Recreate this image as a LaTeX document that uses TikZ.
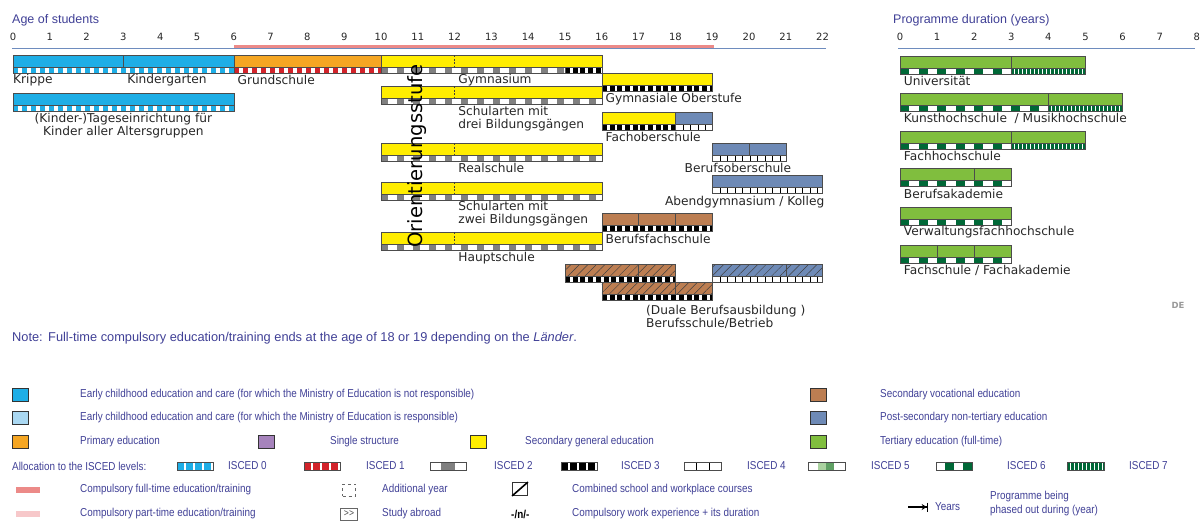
\documentclass[tikz,border=0pt]{standalone}
\usepackage{fontspec}
\setmainfont{DejaVu Sans}
\newfontfamily\notefont{Liberation Sans}
\newfontfamily\legfont[FakeStretch=0.86]{Liberation Sans}
\usetikzlibrary{patterns.meta,arrows.meta}
\definecolor{ecec}{RGB}{30,174,230}
\definecolor{ececlight}{RGB}{170,216,242}
\definecolor{primary}{RGB}{245,166,35}
\definecolor{single}{RGB}{166,131,188}
\definecolor{secgen}{RGB}{255,237,0}
\definecolor{secvoc}{RGB}{188,126,82}
\definecolor{postsec}{RGB}{110,138,182}
\definecolor{tertiary}{RGB}{128,190,62}
\definecolor{iscedred}{RGB}{210,35,42}
\definecolor{iscedgreen}{RGB}{0,104,55}
\definecolor{iscedlight}{RGB}{170,210,160}
\definecolor{iscedmid}{RGB}{95,160,100}
\definecolor{compfull}{RGB}{236,138,136}
\definecolor{comppart}{RGB}{247,200,202}
\definecolor{navy}{RGB}{64,64,150}
\definecolor{axisblue}{RGB}{110,140,190}

% one block of a programme: from, to, top, colour
\newcommand{\edubar}[4]{\draw[barframe, fill=#4] (#1,#3) rectangle (#2,#3+12);}
% hatched block (combined school and workplace)
\newcommand{\dualbar}[4]{%
  \fill[#4] (#1,#3) rectangle (#2,#3+12);
  \fill[pattern={Lines[angle=45,distance=6pt,line width=0.5pt]}, pattern color=black!75] (#1,#3) rectangle (#2,#3+12);
  \draw[barframe] (#1,#3) rectangle (#2,#3+12);}
% ISCED strip: from, to, top, height, style
\newcommand{\iscedstrip}[5]{%
  \fill[white] (#1,#3) rectangle (#2,#3+#4);
  \draw[#5, line width=#4pt] (#1,#3+#4/2) -- (#2,#3+#4/2);
  \draw[barframe] (#1,#3) rectangle (#2,#3+#4);}

\begin{document}
\begin{tikzpicture}[x=1pt, y=-1pt,
    barframe/.style={draw=black!70, line width=0.5pt},
    divider/.style={draw=black!75, dash pattern=on 2pt off 1.5pt, line width=0.6pt},
    lbl/.style={anchor=west, inner sep=0pt, align=left, font=\fontsize{12.2}{13}\selectfont, text=black!85},
    num/.style={inner sep=0pt, font=\fontsize{10}{11}\selectfont, text=black!85},
    head/.style={anchor=west, inner sep=0pt, font=\notefont\fontsize{12.5}{14}\selectfont, text=navy},
    leg/.style={anchor=west, inner sep=0pt, align=left, font=\legfont\fontsize{11.5}{14}\selectfont, text=navy},
    legsq/.style={draw=black!80, line width=0.6pt, minimum width=16pt, minimum height=13pt, inner sep=0pt},
    compbar/.style={minimum width=24pt, minimum height=6pt, inner sep=0pt},
    isced0/.style={ecec, dash pattern=on 5pt off 4pt},
    isced1/.style={iscedred, dash pattern=on 5pt off 4pt},
    isced2/.style={gray, dash pattern=on 7pt off 9pt},
    isced3/.style={black, dash pattern=on 5pt off 2.7pt},
    isced4/.style={black, dash pattern=on 1pt off 6.5pt},
    isced6/.style={iscedgreen, dash pattern=on 9pt off 9.5pt},
    isced7/.style={iscedgreen, dash pattern=on 2.5pt off 1.5pt},
    key0/.style={ecec, dash pattern=on 6.5pt off 2.5pt},
    key1/.style={iscedred, dash pattern=on 6.5pt off 2.5pt},
    key2/.style={gray, dash pattern=on 0pt off 11pt on 14pt off 20pt},
    key3/.style={black, dash pattern=on 6.5pt off 2.5pt},
    key4/.style={black, dash pattern=on 1pt off 11.3pt},
    key5/.style={iscedlight, dash pattern=on 0pt off 10pt on 8pt off 30pt,
      postaction={draw, iscedmid, line width=8pt, dash pattern=on 0pt off 18pt on 8pt off 30pt}},
    key6/.style={iscedgreen, dash pattern=on 9pt off 9pt, dash phase=9pt},
    key7/.style={iscedgreen, dash pattern=on 2.5pt off 1.5pt},
]
\useasboundingbox (0,0) rectangle (1204,530);

% headings
\node[head] (agehead) at (12,20) {Age of students};
\node[head] (durhead) at (893,20) {Programme duration (years)};

% ---- age axis and school programmes
\begin{scope}[x=36.8pt, xshift=13pt]
  \foreach \a in {0,...,22}
    \node[num] (age\a) at (\a,37) {\a};
  \draw[axisblue, line width=0.6pt] (-0.03,48) -- (22.1,48);
  \draw[compfull, line width=3.8pt] (6,46.5) -- (19.05,46.5);

  % pre-primary, primary, Gymnasium
  \edubar{0}{3}{55}{ecec}
  \edubar{3}{6}{55}{ecec}
  \edubar{6}{10}{55}{primary}
  \edubar{10}{16}{55}{secgen}
  \draw[divider] (12,55) -- (12,67);
  \iscedstrip{0}{6}{67}{6}{isced0}
  \iscedstrip{6}{10}{67}{6}{isced1}
  \iscedstrip{10}{15}{67}{6}{isced2}
  \iscedstrip{15}{16}{67}{6}{isced3}
  \node[lbl] (krippe) at (0,80) {Krippe};
  \node[lbl] (kiga) at (3.1,80) {Kindergarten};
  \node[lbl] (grund) at (6.1,80) {Grundschule};
  \node[lbl] (gym) at (12.1,80) {Gymnasium};

  \edubar{0}{6}{93}{ecec}
  \iscedstrip{0}{6}{105}{6}{isced0}
  \node[lbl, anchor=north, align=center] (tages) at (3,113) {(Kinder-)Tageseinrichtung für\\Kinder aller Altersgruppen};

  % lower secondary
  \edubar{10}{16}{86}{secgen}
  \draw[divider] (12,86) -- (12,98);
  \iscedstrip{10}{16}{98}{6}{isced2}
  \node[lbl] (drei) at (12.1,118.5) {Schularten mit\\drei Bildungsgängen};

  \edubar{10}{16}{143}{secgen}
  \draw[divider] (12,143) -- (12,155);
  \iscedstrip{10}{16}{155}{6}{isced2}
  \node[lbl] (real) at (12.1,168) {Realschule};

  \edubar{10}{16}{182}{secgen}
  \draw[divider] (12,182) -- (12,194);
  \iscedstrip{10}{16}{194}{6}{isced2}
  \node[lbl] (zwei) at (12.1,213.5) {Schularten mit\\zwei Bildungsgängen};

  \edubar{10}{16}{232}{secgen}
  \draw[divider] (12,232) -- (12,244);
  \iscedstrip{10}{16}{244}{6}{isced2}
  \node[lbl] (haupt) at (12.1,258) {Hauptschule};

  \node[rotate=90, inner sep=0pt, font=\fontsize{19.6}{20}\selectfont] (orient) at (10.97,156) {Orientierungsstufe};

  % upper secondary
  \edubar{16}{19}{73}{secgen}
  \iscedstrip{16}{19}{85}{6}{isced3}
  \node[lbl] (oberst) at (16.1,99) {Gymnasiale Oberstufe};

  \edubar{16}{18}{112}{secgen}
  \edubar{18}{19}{112}{postsec}
  \iscedstrip{16}{18}{124}{6}{isced3}
  \iscedstrip{18}{19}{124}{6}{isced4}
  \node[lbl] (fos) at (16.1,137) {Fachoberschule};

  \edubar{19}{20}{143}{postsec}
  \edubar{20}{21}{143}{postsec}
  \iscedstrip{19}{21}{155}{6}{isced4}
  \node[lbl, anchor=east] (bos) at (21.15,168) {Berufsoberschule};

  \edubar{19}{22}{175}{postsec}
  \iscedstrip{19}{22}{187}{6}{isced4}
  \node[lbl, anchor=east] (abend) at (22.05,202) {Abendgymnasium / Kolleg};

  \edubar{16}{17}{213}{secvoc}
  \edubar{17}{18}{213}{secvoc}
  \edubar{18}{19}{213}{secvoc}
  \iscedstrip{16}{19}{225}{6}{isced3}
  \node[lbl] (bfs) at (16.1,239) {Berufsfachschule};

  % dual system
  \dualbar{15}{17}{264}{secvoc}
  \dualbar{17}{18}{264}{secvoc}
  \iscedstrip{15}{18}{276}{6}{isced3}
  \dualbar{16}{18}{282}{secvoc}
  \dualbar{18}{19}{282}{secvoc}
  \iscedstrip{16}{19}{294}{6}{isced3}
  \dualbar{19}{21}{264}{postsec}
  \dualbar{21}{22}{264}{postsec}
  \iscedstrip{19}{22}{276}{6}{isced4}
  \node[lbl] (dual) at (17.2,316.5) {(Duale Berufsausbildung )\\Berufsschule/Betrieb};
\end{scope}

% ---- programme duration axis and tertiary
\begin{scope}[x=37.1pt, xshift=900pt]
  \foreach \d in {0,...,8}
    \node[num] (dur\d) at (\d,37) {\d};
  \draw[axisblue, line width=0.6pt] (-0.05,48) -- (7.95,48);

  \edubar{0}{3}{56}{tertiary}
  \edubar{3}{5}{56}{tertiary}
  \iscedstrip{0}{3}{68}{6}{isced6}
  \iscedstrip{3}{5}{68}{6}{isced7}
  \node[lbl] (uni) at (0.1,81) {Universität};

  \edubar{0}{4}{93}{tertiary}
  \edubar{4}{6}{93}{tertiary}
  \iscedstrip{0}{4}{105}{6}{isced6}
  \iscedstrip{4}{6}{105}{6}{isced7}
  \node[lbl] (kunst) at (0.1,118) {Kunsthochschule \ / Musikhochschule};

  \edubar{0}{3}{131}{tertiary}
  \edubar{3}{5}{131}{tertiary}
  \iscedstrip{0}{3}{143}{6}{isced6}
  \iscedstrip{3}{5}{143}{6}{isced7}
  \node[lbl] (fh) at (0.1,156) {Fachhochschule};

  \edubar{0}{2}{168}{tertiary}
  \edubar{2}{3}{168}{tertiary}
  \iscedstrip{0}{3}{180}{6}{isced6}
  \node[lbl] (ba) at (0.1,194) {Berufsakademie};

  \edubar{0}{3}{207}{tertiary}
  \iscedstrip{0}{3}{219}{6}{isced6}
  \node[lbl] (vfh) at (0.1,232) {Verwaltungsfachhochschule};

  \edubar{0}{1}{245}{tertiary}
  \edubar{1}{2}{245}{tertiary}
  \edubar{2}{3}{245}{tertiary}
  \iscedstrip{0}{3}{257}{6}{isced6}
  \node[lbl] (fs) at (0.1,270) {Fachschule / Fachakademie};
\end{scope}

\node[inner sep=0pt, font=\bfseries\fontsize{8.5}{9}\selectfont, text=black!40] (country) at (1178,305) {DE};

\node[head, font=\notefont\fontsize{12.8}{14}\selectfont] (note) at (12,338) {\makebox[36pt][l]{Note:}Full-time compulsory education/training ends at the age of 18 or 19 depending on the \textit{Länder}.};

% ---- legend
\node[legsq, fill=ecec] (sqecec) at (20,395) {};
\node[leg] (txecec) at (80,395) {Early childhood education and care (for which the Ministry of Education is not responsible)};
\node[legsq, fill=ececlight] (sqlight) at (20,418) {};
\node[leg] (txlight) at (80,418) {Early childhood education and care (for which the Ministry of Education is responsible)};
\node[legsq, fill=primary] (sqprim) at (20,442) {};
\node[leg] (txprim) at (80,442) {Primary education};
\node[legsq, fill=single] (sqsingle) at (266,442) {};
\node[leg] (txsingle) at (330,442) {Single structure};
\node[legsq, fill=secgen] (sqsecgen) at (478,442) {};
\node[leg] (txsecgen) at (525,442) {Secondary general education};
\node[legsq, fill=secvoc] (sqsecvoc) at (818,395) {};
\node[leg] (txsecvoc) at (880,395) {Secondary vocational education};
\node[legsq, fill=postsec] (sqpost) at (818,418) {};
\node[leg] (txpost) at (880,418) {Post-secondary non-tertiary education};
\node[legsq, fill=tertiary] (sqtert) at (818,442) {};
\node[leg] (txtert) at (880,442) {Tertiary education (full-time)};

\node[leg] (alloc) at (12,466) {Allocation to the ISCED levels:};
\iscedstrip{177}{213}{462}{8}{key0}
\node[leg] (is0) at (228,466) {ISCED 0};
\iscedstrip{304}{340}{462}{8}{key1}
\node[leg] (is1) at (366,466) {ISCED 1};
\iscedstrip{430}{466}{462}{8}{key2}
\node[leg] (is2) at (494,466) {ISCED 2};
\iscedstrip{561}{597}{462}{8}{key3}
\node[leg] (is3) at (621,466) {ISCED 3};
\iscedstrip{684}{721}{462}{8}{key4}
\node[leg] (is4) at (747,466) {ISCED 4};
\iscedstrip{808}{845}{462}{8}{key5}
\node[leg] (is5) at (871,466) {ISCED 5};
\iscedstrip{936}{972}{462}{8}{key6}
\node[leg] (is6) at (1007,466) {ISCED 6};
\iscedstrip{1067}{1104}{462}{8}{key7}
\node[leg] (is7) at (1129,466) {ISCED 7};

\node[compbar, fill=compfull] (cfull) at (28,490) {};
\node[leg] (txcfull) at (80,490) {Compulsory full-time education/training};
\node[compbar, fill=comppart] (cpart) at (28,514) {};
\node[leg] (txcpart) at (80,514) {Compulsory part-time education/training};
\node[draw=black!60, dashed, minimum width=13pt, minimum height=12pt, inner sep=0pt] (addyear) at (349,490) {};
\node[leg] (txaddyear) at (382,490) {Additional year};
\node[draw=black!60, minimum width=17pt, minimum height=12pt, inner sep=0pt, font=\legfont\fontsize{10}{10}\selectfont, text=black!70] (abroad) at (349,514) {>{}>};
\node[leg] (txabroad) at (382,514) {Study abroad};
\node[legsq, line width=0.9pt, minimum width=15pt, minimum height=13pt] (zbox) at (520,489) {};
\draw[line width=1.6pt] (zbox.south west) -- (zbox.north east);
\node[leg] (txzbox) at (572,490) {Combined school and workplace courses};
\node[leg, font=\legfont\bfseries\fontsize{11.5}{12}\selectfont, text=black] (workexp) at (511,514) {-/n/-};
\node[leg] (txworkexp) at (572,514) {Compulsory work experience + its duration};

\coordinate (yrsA) at (908,507);
\coordinate (yrsB) at (928,507);
\draw[line width=1.2pt, -{Stealth[length=5pt,width=6pt] Bar[width=9pt,line width=1.3pt]}] (yrsA) -- (yrsB);
\node[leg] (years) at (935,507) {Years};
\node[leg] (phased) at (990,504) {Programme being\\phased out during (year)};
\end{tikzpicture}
\end{document}
